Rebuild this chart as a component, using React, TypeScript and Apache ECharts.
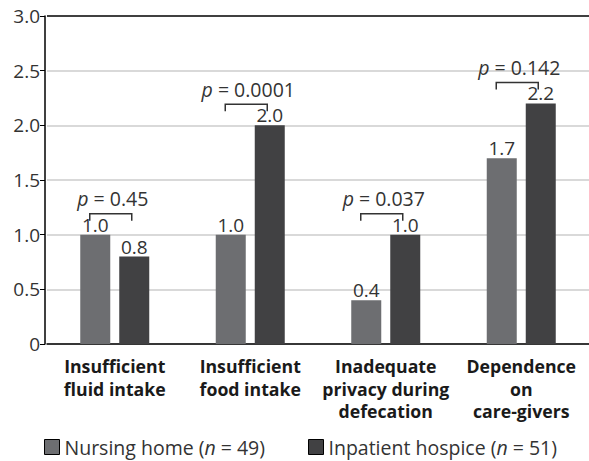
import React, { useEffect, useRef } from "react";
import * as echarts from "echarts";

const categories = [
  "Insufficient\nfluid intake",
  "Insufficient\nfood intake",
  "Inadequate\nprivacy during\ndefecation",
  "Dependence\non\ncare-givers",
];
const nursingHome = [1.0, 1.0, 0.4, 1.7];
const inpatientHospice = [0.8, 2.0, 1.0, 2.2];
const pValues = ["0.45", "0.0001", "0.037", "0.142"];
const seriesNames = ["Nursing home (n = 49)", "Inpatient hospice (n = 51)"];
const yTicks = [0, 0.5, 1.0, 1.5, 2.0, 2.5, 3.0];

const FONT = "Open Sans";

export default function App() {
  const ref = useRef<HTMLDivElement>(null);
  useEffect(() => {
    if (!ref.current) return;
    const chart = echarts.init(ref.current, null, { renderer: "svg" });
    const legendFmt = (name: string) => name.replace("(n =", "({i|n} =");
    const legendText = {
      fontFamily: FONT,
      fontSize: 19.5,
      color: "#333",
      rich: { i: { fontFamily: FONT, fontSize: 19.5, fontStyle: "italic", color: "#333" } },
    };
    const valueLabel = {
      show: true,
      position: "top",
      distance: 0,
      fontFamily: FONT,
      fontSize: 19,
      lineHeight: 20,
      color: "#333",
      formatter: (p: any) => Number(p.value).toFixed(1),
    };
    const option: any = {
      animation: false,
      textStyle: { fontFamily: FONT },
      grid: { left: 47, top: 16, width: 545, height: 328, containLabel: false },
      xAxis: {
        type: "category",
        data: categories,
        axisLine: { show: true, lineStyle: { color: "#000", width: 1.5 } },
        axisTick: { show: false },
        axisLabel: {
          interval: 0,
          margin: 11,
          fontFamily: FONT,
          fontSize: 17.7,
          fontWeight: "bold",
          color: "#1a1a1a",
          lineHeight: 22.5,
        },
      },
      yAxis: {
        type: "value",
        min: yTicks[0],
        max: yTicks[yTicks.length - 1],
        interval: 0.5,
        offset: 2,
        axisLine: { show: true, lineStyle: { color: "#000", width: 1.5 } },
        axisTick: { show: true, length: 5, lineStyle: { color: "#000" } },
        axisLabel: {
          margin: 5,
          fontFamily: FONT,
          fontSize: 19,
          color: "#333",
          formatter: (v: number) => (v === 0 ? "0" : v.toFixed(1)),
        },
        splitLine: {
          show: true,
          lineStyle: {
            color: ["#cccccc", "#cccccc", "#cccccc", "#cccccc", "#cccccc", "#cccccc", "#000000"],
            width: 1.5,
          },
        },
      },
      legend: [
        {
          data: [seriesNames[0]],
          left: 44,
          top: 437,
          padding: 0,
          icon: "rect",
          itemWidth: 15,
          itemHeight: 15,
          itemStyle: { borderColor: "#000", borderWidth: 1 },
          formatter: legendFmt,
          textStyle: legendText,
        },
        {
          data: [seriesNames[1]],
          left: 308,
          top: 437,
          padding: 0,
          icon: "rect",
          itemWidth: 15,
          itemHeight: 15,
          itemStyle: { borderColor: "#000", borderWidth: 1 },
          formatter: legendFmt,
          textStyle: legendText,
        },
      ],
      series: [
        {
          name: seriesNames[0],
          type: "bar",
          data: nursingHome,
          barWidth: 30,
          barGap: "30%",
          itemStyle: { color: "#6d6e71" },
          label: valueLabel,
        },
        {
          name: seriesNames[1],
          type: "bar",
          data: inpatientHospice,
          barWidth: 30,
          barGap: "30%",
          itemStyle: { color: "#414143" },
          label: valueLabel,
        },
        {
          type: "custom",
          silent: true,
          clip: false,
          z: 5,
          data: categories.map((_, i) => [i, Math.max(nursingHome[i], inpatientHospice[i])]),
          renderItem: (params: any, api: any) => {
            const c = api.coord([api.value(0), api.value(1)]);
            const y = c[1] - 21;
            const l = c[0] - 25;
            const r = c[0] + 17;
            return {
              type: "group",
              children: [
                {
                  type: "polyline",
                  shape: { points: [[l, y + 7], [l, y], [r, y], [r, y + 7]] },
                  style: { stroke: "#333", lineWidth: 1.5, fill: null },
                },
                {
                  type: "text",
                  x: c[0] - 2,
                  y: y - 5,
                  style: {
                    text: "{i|p} = " + pValues[params.dataIndex],
                    align: "center",
                    verticalAlign: "bottom",
                    fontFamily: FONT,
                    fontSize: 19.5,
                    lineHeight: 20,
                    fill: "#333",
                    rich: {
                      i: { fontFamily: FONT, fontSize: 19.5, lineHeight: 20, fontStyle: "italic", fill: "#333" },
                    },
                  },
                },
              ],
            };
          },
        },
      ],
    };
    chart.setOption(option);
    return () => chart.dispose();
  }, []);
  return (
    <div
      ref={ref}
      style={{ position: "absolute", left: 0, top: 0, width: 589, height: 461, background: "#fff" }}
    />
  );
}
